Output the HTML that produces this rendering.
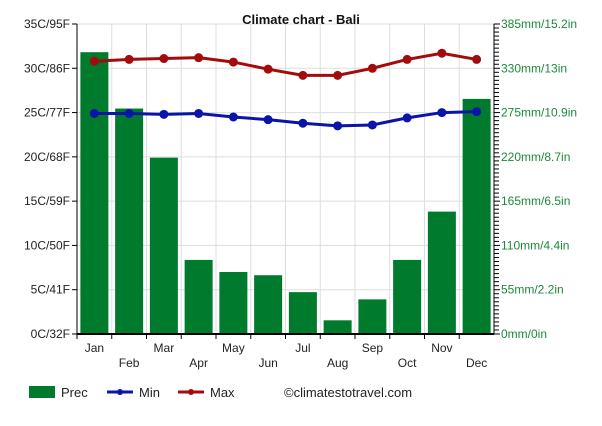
<!DOCTYPE html>
<html><head><meta charset="utf-8"><style>
body{margin:0;background:#fff;}
svg text{font-family:"Liberation Sans",Arial,sans-serif;}
</style></head><body>
<svg id="c" width="602" height="421" xmlns="http://www.w3.org/2000/svg"></svg>
<script>
const months=["Jan","Feb","Mar","Apr","May","Jun","Jul","Aug","Sep","Oct","Nov","Dec"];
const prec=[350,280,219,92,77,73,52,17,43,92,152,292];
const tmin=[24.9,24.9,24.8,24.9,24.5,24.2,23.8,23.5,23.6,24.4,25.0,25.1];
const tmax=[30.8,31.0,31.1,31.2,30.7,29.9,29.2,29.2,30.0,31.0,31.7,31.0];
const leftTicks=["0C/32F","5C/41F","10C/50F","15C/59F","20C/68F","25C/77F","30C/86F","35C/95F"];
const rightTicks=["0mm/0in","55mm/2.2in","110mm/4.4in","165mm/6.5in","220mm/8.7in","275mm/10.9in","330mm/13in","385mm/15.2in"];
const svg=document.getElementById('c');const NS="http://www.w3.org/2000/svg";
const L=77,R=494,T=24,B=334;const slot=(R-L)/12;
const yT=v=>B-(v/35)*(B-T);const yP=v=>B-(v/385)*(B-T);const xC=i=>L+slot*(i+0.5);
function mk(tag,a,parent){const e=document.createElementNS(NS,tag);for(const k in a)e.setAttribute(k,a[k]);(parent||svg).appendChild(e);return e;}
let g=mk('g',{});


for(let i=1;i<=12;i++)mk('line',{x1:L+slot*i,x2:L+slot*i,y1:T,y2:B,stroke:'#ddd'},g);
for(let i=1;i<=7;i++)mk('line',{x1:L,x2:R,y1:yT(i*5),y2:yT(i*5),stroke:'#ddd'},g);
prec.forEach((v,i)=>{const r=mk('rect',{x:xC(i)-14,y:yP(v),width:28,height:B-yP(v),fill:'#007b2e'});

});
function series(arr,col,name){const p=mk('polyline',{points:arr.map((v,i)=>xC(i)+','+yT(v)).join(' '),fill:'none',stroke:col,'stroke-width':3});


arr.forEach((v,i)=>{const c=mk('circle',{cx:xC(i),cy:yT(v),r:4.5,fill:col});

});}
series(tmin,'#0b14a8','min');series(tmax,'#a20c0c','max');
mk('line',{x1:L,x2:L,y1:T,y2:B,stroke:'#000'});mk('line',{x1:R,x2:R,y1:T,y2:B,stroke:'#000'});
mk('line',{x1:L,x2:R,y1:B,y2:B,stroke:'#000','stroke-width':2});
leftTicks.forEach((t,i)=>{const y=yT(i*5);mk('line',{x1:L-5,x2:L,y1:y,y2:y,stroke:'#000'});
const e=mk('text',{x:L-7,y:y+4,'text-anchor':'end','font-size':12,fill:'#222'});e.textContent=t;

});
for(let m=0;m<=385;m+=5){const y=yP(m);mk('line',{x1:R,x2:R+(m%55==0?6:5),y1:y,y2:y,stroke:'#000'});}
rightTicks.forEach((t,i)=>{const y=yP(i*55);const e=mk('text',{x:R+7,y:y+4,'font-size':12,fill:'#1b8a3a'});e.textContent=t;

});
months.forEach((m,i)=>{mk('line',{x1:L+slot*i,x2:L+slot*i,y1:B,y2:B+5,stroke:'#000'});
const e=mk('text',{x:xC(i),y:B+(i%2?33:18),'text-anchor':'middle','font-size':12,fill:'#222'});e.textContent=m;

});
const ti=mk('text',{x:301,y:24,'text-anchor':'middle','font-size':13,'font-weight':'bold',fill:'#111'});ti.textContent='Climate chart - Bali';


let lg=mk('g',{});


mk('rect',{x:29,y:386,width:26,height:12,fill:'#007b2e'},lg);
let t1=mk('text',{x:61,y:397,'font-size':13,fill:'#222'},lg);t1.textContent='Prec';
mk('line',{x1:107,x2:133,y1:392,y2:392,stroke:'#0b14a8','stroke-width':3},lg);mk('circle',{cx:120,cy:392,r:3,fill:'#0b14a8'},lg);
let t2=mk('text',{x:139,y:397,'font-size':13,fill:'#222'},lg);t2.textContent='Min';
mk('line',{x1:178,x2:204,y1:392,y2:392,stroke:'#a20c0c','stroke-width':3},lg);mk('circle',{cx:191,cy:392,r:3,fill:'#a20c0c'},lg);
let t3=mk('text',{x:210,y:397,'font-size':13,fill:'#222'},lg);t3.textContent='Max';
let t4=mk('text',{x:284,y:397,'font-size':13,fill:'#222'},lg);t4.textContent='©climatestotravel.com';
</script>
</body></html>
